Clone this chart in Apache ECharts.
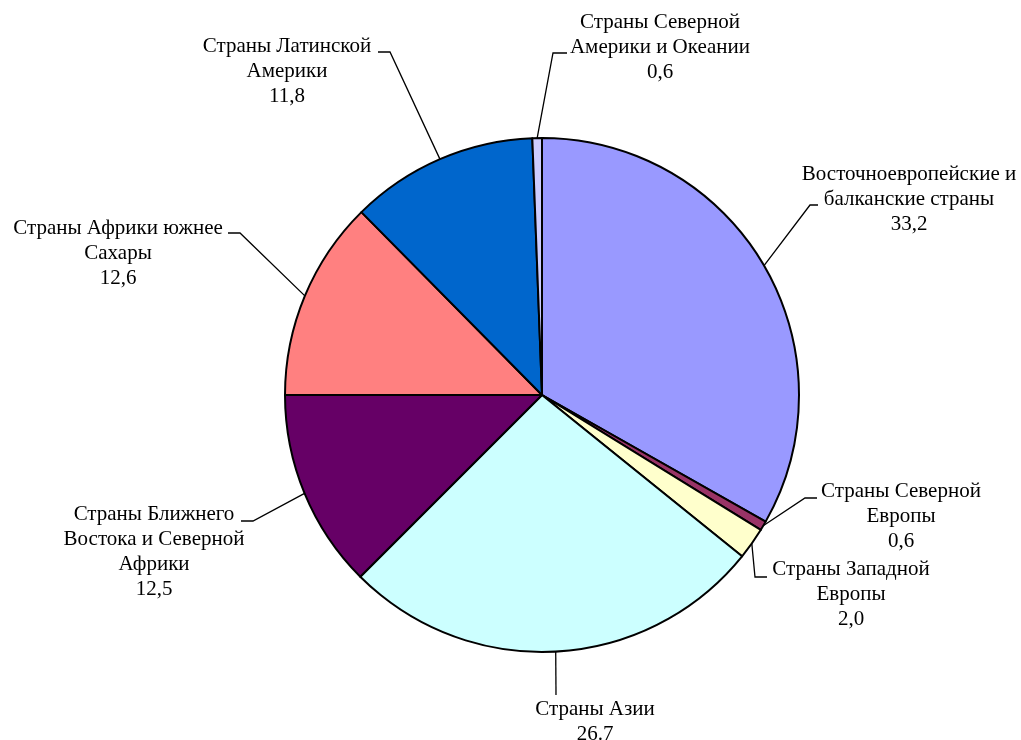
<!DOCTYPE html>
<html>
<head>
<meta charset="utf-8">
<script src="https://cdn.jsdelivr.net/npm/echarts@6/dist/echarts.min.js"></script>
<style>
html, body { margin: 0; padding: 0; background: #fff; }
#chart { width: 1021px; height: 740px; }
</style>
</head>
<body>
<div id="chart"></div>
<script>
var categories = [
    'Восточноевропейские и\nбалканские страны',
    'Страны Северной\nЕвропы',
    'Страны Западной\nЕвропы',
    'Страны Азии',
    'Страны Ближнего\nВостока и Северной\nАфрики',
    'Страны Африки южнее\nСахары',
    'Страны Латинской\nАмерики',
    'Страны Северной\nАмерики и Океании'
];
var values = [33.2, 0.6, 2.0, 26.7, 12.5, 12.6, 11.8, 0.6];
var valueText = ['33,2', '0,6', '2,0', '26.7', '12,5', '12,6', '11,8', '0,6'];
var colors = ['#9999FF', '#993366', '#FFFFCC', '#CCFFFF', '#660066', '#FF8080', '#0066CC', '#CCCCFF'];

// label block: centre x, top y
var labelPos = [[909, 162], [901, 479], [851, 557], [595, 697], [154, 502], [118, 216], [287, 34], [660, 10]];
// leader: bend x, bend y, end of the short hook x
var leaderHook = [[810, 205, 818], [805, 498, 817], [755, 577, 767], [556, 695, 556],
                  [253, 521, 241], [240, 233, 228], [390, 52, 378], [553, 53, 567]];

var data = [];
for (var i = 0; i < values.length; i++) {
    data.push({ name: categories[i], value: values[i], itemStyle: { color: colors[i] } });
}

var myChart = echarts.init(document.getElementById('chart'));
myChart.setOption({
    backgroundColor: '#fff',
    animation: false,
    series: [{
        type: 'pie',
        center: [542, 395],
        radius: 257,
        startAngle: 90,
        clockwise: true,
        avoidLabelOverlap: false,
        itemStyle: { borderColor: '#000', borderWidth: 2 },
        label: {
            show: true,
            position: 'outside',
            color: '#000',
            fontFamily: 'Liberation Serif',
            fontSize: 21,
            lineHeight: 25,
            formatter: function (p) { return p.name + '\n' + valueText[p.dataIndex]; }
        },
        labelLine: { show: true, lineStyle: { color: '#000', width: 1.3 } },
        labelLayout: function (params) {
            var i = params.dataIndex;
            var start = params.labelLinePoints[0];
            var h = leaderHook[i];
            return {
                x: labelPos[i][0],
                y: labelPos[i][1],
                align: 'center',
                verticalAlign: 'top',
                labelLinePoints: [start, [h[0], h[1]], [h[2], h[1]]]
            };
        },
        data: data
    }]
});
</script>
</body>
</html>
